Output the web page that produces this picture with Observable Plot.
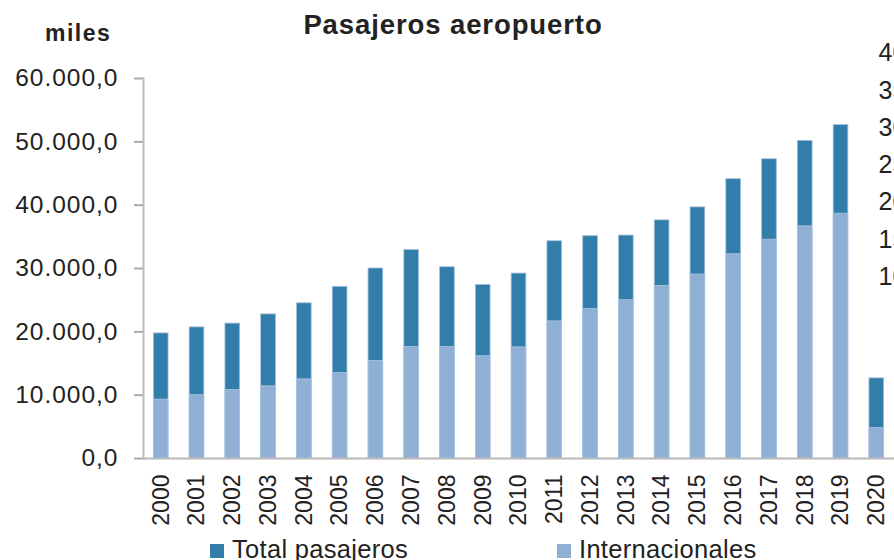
<!DOCTYPE html>
<html>
<head>
<meta charset="utf-8">
<script src="https://cdn.jsdelivr.net/npm/d3@7"></script>
<script src="https://cdn.jsdelivr.net/npm/@observablehq/plot@0.6"></script>
<style>
  html, body { margin: 0; padding: 0; background: #fff; overflow: hidden; }
  body { width: 894px; height: 560px; font-family: "Liberation Sans", Arial, sans-serif; color: #222; }
  #wrap { position: relative; width: 894px; height: 560px; }
  #title { position: absolute; left: 0; width: 906px; top: 9px; text-align: center; font-weight: bold; font-size: 27.5px; letter-spacing: 0.9px; z-index: 2; }
  #miles { position: absolute; left: 45px; top: 20px; font-weight: bold; font-size: 23px; letter-spacing: 1.5px; z-index: 2; }
  #chart svg { display: block; }
  #chart g[aria-label="y-axis tick label"] text { letter-spacing: 1px; }
  #chart g[aria-label="secondary axis"] text { letter-spacing: 3px; }
  #legend { position: absolute; left: 0; top: 530px; width: 894px; height: 30px; font-size: 25.5px; }
  .item { position: absolute; top: 4px; white-space: nowrap; line-height: 30px; letter-spacing: 0.3px; }
  .sw { display: inline-block; width: 14px; height: 14px; margin-right: 8px; vertical-align: 0px; }
</style>
</head>
<body>
<div id="wrap">
  <div id="title">Pasajeros aeropuerto</div>
  <div id="miles">miles</div>
  <div id="chart"></div>
  <div id="legend"></div>
</div>
<script>
const years = ["2000","2001","2002","2003","2004","2005","2006","2007","2008","2009","2010",
               "2011","2012","2013","2014","2015","2016","2017","2018","2019","2020"];
const totalPasajeros = [19750, 20700, 21300, 22750, 24500, 27100, 30000, 32900, 30200, 27400, 29200,
                        34300, 35100, 35200, 37600, 39650, 44100, 47250, 50150, 52650, 12650];
const internacionales = [9300, 10000, 10800, 11400, 12500, 13500, 15400, 17600, 17600, 16150, 17550,
                         21650, 23600, 25000, 27250, 29050, 32250, 34550, 36650, 38650, 4800];
const yTicks = [0, 10000, 20000, 30000, 40000, 50000, 60000];
// secondary (right) axis, partially cut off in the reference
const secTicks = [40, 35, 30, 25, 20, 15, 10];
const secBase = 28689, secStep = 1176.4; // secondary value -> primary units

const seriesNames = ["Total pasajeros", "Internacionales"];
const colors = ["#337dab", "#8fb0d4"];

const data = years.map((y, i) => ({year: y, total: totalPasajeros[i], intl: internacionales[i]}));

const loc = d3.formatLocale({decimal: ",", thousands: ".", grouping: [3], currency: ["", ""]});
const fmt = loc.format(",.1f");

const chart = Plot.plot({
  width: 894,
  height: 530,
  marginLeft: 143,
  marginRight: 0,
  marginTop: 78,
  marginBottom: 72,
  style: {fontFamily: "'Liberation Sans', Arial, sans-serif", color: "#222", background: "#fff", overflow: "visible"},
  x: {type: "band", domain: years, paddingInner: 0.59, paddingOuter: 0.29, round: false, label: null},
  y: {domain: [0, 60000], label: null},
  marks: [
    Plot.barY(data, {x: "year", y: "total", fill: colors[0], stroke: "#9fbedb", strokeWidth: 0.8}),
    Plot.barY(data, {x: "year", y: "intl", fill: colors[1], stroke: "#a9c6e0", strokeWidth: 0.8}),
    Plot.ruleY([0], {stroke: "#b8b8b8", strokeWidth: 2}),
    Plot.frame({anchor: "left", stroke: "#bdbdbd", strokeWidth: 2}),
    Plot.axisY(yTicks, {tickFormat: fmt, tickSize: 9, tickPadding: 16, fontSize: 24.5, stroke: "#aaa", strokeWidth: 2, fill: "#222"}),
    Plot.axisX({tickRotate: -90, tickSize: 0, tickPadding: 16, fontSize: 23, fill: "#222", label: null}),
    Plot.text(secTicks, {y: s => secBase + secStep * (s - 10), text: s => s + ",0", frameAnchor: "right", dx: -16, textAnchor: "start", fontSize: 25, fill: "#222", ariaLabel: "secondary axis"})
  ]
});
document.getElementById("chart").appendChild(chart);

const legend = document.getElementById("legend");
const lx = [210, 557];
seriesNames.forEach((name, i) => {
  const el = document.createElement("div");
  el.className = "item";
  el.style.left = lx[i] + "px";
  el.innerHTML = `<span class="sw" style="background:${colors[i]}"></span>${name}`;
  legend.appendChild(el);
});
</script>
</body>
</html>
